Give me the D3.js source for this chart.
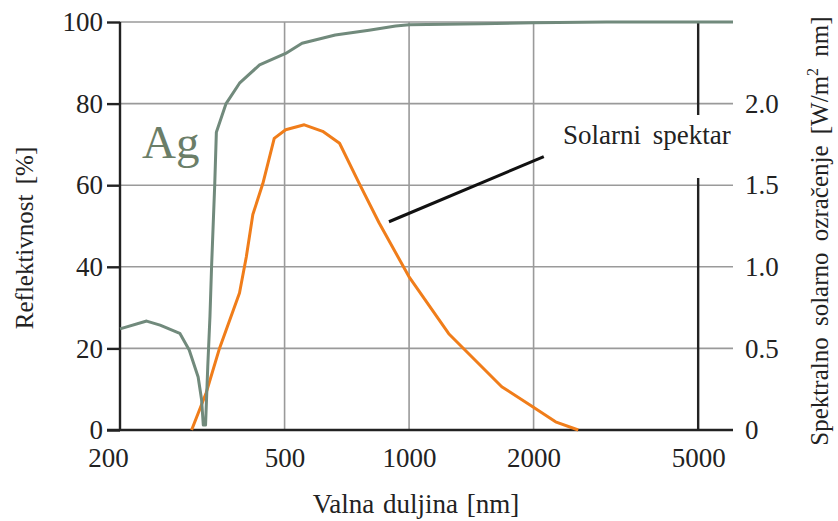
<!DOCTYPE html>
<html><head><meta charset="utf-8">
<script src="https://cdn.jsdelivr.net/npm/d3@7"></script>
<style>
html,body{margin:0;padding:0;background:#fff;}
svg{display:block;}
text{font-family:"Liberation Serif","Times New Roman",serif;fill:#222;}
</style></head>
<body>
<svg id="chart" width="838" height="521"></svg>
<script>
// ---- data ----
const xTicks = [200, 500, 1000, 2000, 5000];
const leftTicks = [0, 20, 40, 60, 80, 100];
const rightTicks = [0, 0.5, 1.0, 1.5, 2.0];
const rightTickLabels = ["0", "0.5", "1.0", "1.5", "2.0"];

const agWavelength = [200, 232, 250, 279, 294, 309, 315, 318, 322, 326, 330, 333, 339, 342, 361, 389, 435, 503, 551, 663, 800, 928, 1000, 1500, 2000, 3000, 6070];
const agReflectivity = [24.8, 26.7, 25.7, 23.7, 19.6, 13, 7.4, 1.2, 1.2, 15.5, 27.8, 40, 60.5, 73, 80, 85, 89.5, 92.3, 94.8, 96.8, 98, 99, 99.3, 99.6, 99.8, 100, 100];

const solarWavelength = [298, 323, 348, 389, 404, 419, 443, 472, 503, 558, 618, 679, 758, 846, 999, 1247, 1675, 1990, 2260, 2565];
const solarIrradiance = [0, 0.227, 0.5, 0.84, 1.06, 1.32, 1.51, 1.787, 1.84, 1.87, 1.83, 1.757, 1.51, 1.27, 0.94, 0.59, 0.265, 0.143, 0.05, 0];

const pointerWavelength = [894, 2117];
const pointerIrradiance = [1.276, 1.675];

// ---- layout ----
const L = 120, R = 733, T = 22, B = 430;
const svg = d3.select("#chart");
const x = d3.scaleLog().domain([200, 6070]).range([L, R]);
const yL = d3.scaleLinear().domain([0, 100]).range([B, T]);
const yR = d3.scaleLinear().domain([0, 2.5]).range([B, T]);

// grid: horizontal
svg.append("g").selectAll("line").data(leftTicks.filter(d => d > 0)).join("line")
  .attr("x1", L).attr("x2", R).attr("y1", d => yL(d)).attr("y2", d => yL(d))
  .attr("stroke", "#9a9a9a").attr("stroke-width", 1.6);
// grid: vertical
svg.append("g").selectAll("line").data(xTicks.filter(d => d > 200 && d < 5000)).join("line")
  .attr("x1", d => x(d)).attr("x2", d => x(d)).attr("y1", T).attr("y2", B)
  .attr("stroke", "#9a9a9a").attr("stroke-width", 1.6);
// dark line at 5000
svg.append("line").attr("x1", x(5000)).attr("x2", x(5000)).attr("y1", T).attr("y2", B)
  .attr("stroke", "#222").attr("stroke-width", 2.4);

// left axis
const gLeft = svg.append("g").attr("transform", `translate(${L},0)`)
  .call(d3.axisLeft(yL).tickValues(leftTicks).tickSize(13).tickPadding(4).tickFormat(d3.format("d")));
gLeft.select(".domain").attr("stroke", "#222").attr("stroke-width", 2.4).attr("d", `M0,${T}V${B}`);
gLeft.selectAll(".tick line").attr("stroke", "#222").attr("stroke-width", 2.4);
gLeft.selectAll(".tick text").attr("font-family", "Liberation Serif, serif").attr("font-size", 27).attr("fill", "#222");

// bottom axis
const gBot = svg.append("g").attr("transform", `translate(0,${B})`)
  .call(d3.axisBottom(x).tickValues(xTicks).tickSize(0).tickPadding(18).tickFormat(d3.format("d")));
gBot.select(".domain").attr("stroke", "#222").attr("stroke-width", 2.4).attr("d", `M${L - 13},0H${R}`);
gBot.selectAll(".tick text").attr("font-family", "Liberation Serif, serif").attr("font-size", 27).attr("fill", "#222")
  .attr("dx", d => d === 200 ? -12 : 0);

// right axis labels (no line)
const gRight = svg.append("g").attr("transform", `translate(${R},0)`)
  .call(d3.axisRight(yR).tickValues(rightTicks).tickSize(0).tickPadding(12).tickFormat((d, i) => rightTickLabels[i]));
gRight.select(".domain").remove();
gRight.selectAll(".tick text").attr("font-family", "Liberation Serif, serif").attr("font-size", 27).attr("fill", "#222");

// curves
const solar = solarWavelength.map((w, i) => [w, solarIrradiance[i]]);
const ag = agWavelength.map((w, i) => [w, agReflectivity[i]]);
svg.append("path").datum(solar)
  .attr("d", d3.line().x(d => x(d[0])).y(d => yR(d[1])))
  .attr("fill", "none").attr("stroke", "#f07d1a").attr("stroke-width", 3).attr("stroke-linejoin", "round");
svg.append("path").datum(ag)
  .attr("d", d3.line().x(d => x(d[0])).y(d => yL(d[1])))
  .attr("fill", "none").attr("stroke", "#718a7c").attr("stroke-width", 3).attr("stroke-linejoin", "round");

// annotation pointer
const ptr = pointerWavelength.map((w, i) => [w, pointerIrradiance[i]]);
svg.append("path").datum(ptr)
  .attr("d", d3.line().x(d => x(d[0])).y(d => yR(d[1])))
  .attr("fill", "none").attr("stroke", "#111").attr("stroke-width", 3);

// annotation label with white background
svg.append("rect").attr("x", 556).attr("y", 115).attr("width", 182).attr("height", 63).attr("fill", "#fff");
svg.append("text").attr("x", 563).attr("y", 144).attr("font-size", 27).attr("word-spacing", 5)
  .text("Solarni spektar");

// Ag label
svg.append("text").attr("x", 142).attr("y", 158).attr("font-size", 47).style("fill", "#6b7e68")
  .text("Ag");

// axis titles
svg.append("text").attr("x", 416).attr("y", 513).attr("text-anchor", "middle").attr("font-size", 27)
  .attr("word-spacing", 2).text("Valna duljina [nm]");
svg.append("text").attr("transform", "translate(33,238) rotate(-90)").attr("text-anchor", "middle")
  .attr("font-size", 25).attr("word-spacing", 4).text("Reflektivnost [%]");
const rt = svg.append("text").attr("transform", "translate(828,231) rotate(-90)").attr("text-anchor", "middle")
  .attr("font-size", 25).attr("word-spacing", 5);
rt.append("tspan").text("Spektralno solarno ozračenje [W/m");
rt.append("tspan").attr("font-size", 16).attr("dy", -10).text("2");
rt.append("tspan").attr("dy", 10).text(" nm]");
</script>
</body></html>
